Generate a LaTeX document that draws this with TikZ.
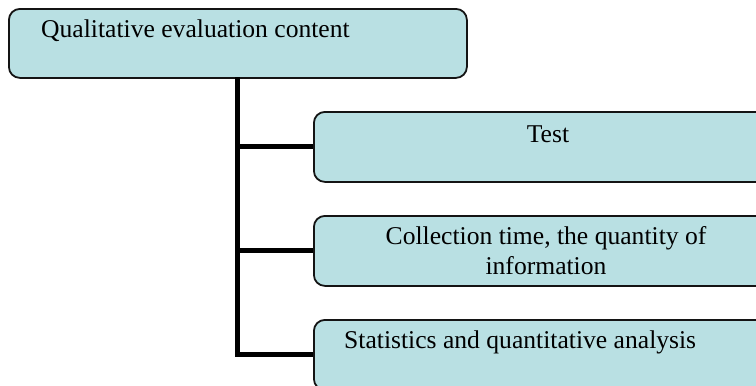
\documentclass[tikz,border=0pt]{standalone}
\usepackage{fontspec}
\setmainfont{Liberation Serif}
\definecolor{boxfill}{RGB}{185,224,227}
\definecolor{boxline}{RGB}{20,20,20}
\begin{document}
\begin{tikzpicture}[x=1pt,y=-1pt,
  box/.style={draw=boxline,fill=boxfill,line width=1.8pt,rounded corners=11pt,inner sep=0pt,anchor=north west},
  txt/.style={inner sep=0pt,font=\fontsize{25.6}{30}\selectfont,text=black},
  conn/.style={draw=black,line width=5pt}]
\useasboundingbox (0,0) rectangle (756,386);
\clip (0,0) rectangle (756,386);
% boxes
\node[box,minimum width=458pt,minimum height=69pt] (top) at (8,8) {};
\node[box,minimum width=480pt,minimum height=70pt] (c1) at (313,111) {};
\node[box,minimum width=480pt,minimum height=70pt] (c2) at (313,215) {};
\node[box,minimum width=480pt,minimum height=70pt] (c3) at (313,319) {};
% texts
\node[txt,anchor=base west] (ttop) at (41,37) {Qualitative evaluation content};
\node[txt,anchor=base] (t1) at (548,142) {Test};
\node[txt,anchor=base,align=center] (t2) at (546,274) {Collection time, the quantity of\\information};
\node[txt,anchor=base west] (t3) at (344,348) {Statistics and quantitative analysis};
% connectors
\coordinate (trunk) at (237,77);
\draw[conn] (trunk) |- (c3.west);
\draw[conn] (c1.west -| trunk) -- (c1.west);
\draw[conn] (c2.west -| trunk) -- (c2.west);
\end{tikzpicture}
\end{document}
